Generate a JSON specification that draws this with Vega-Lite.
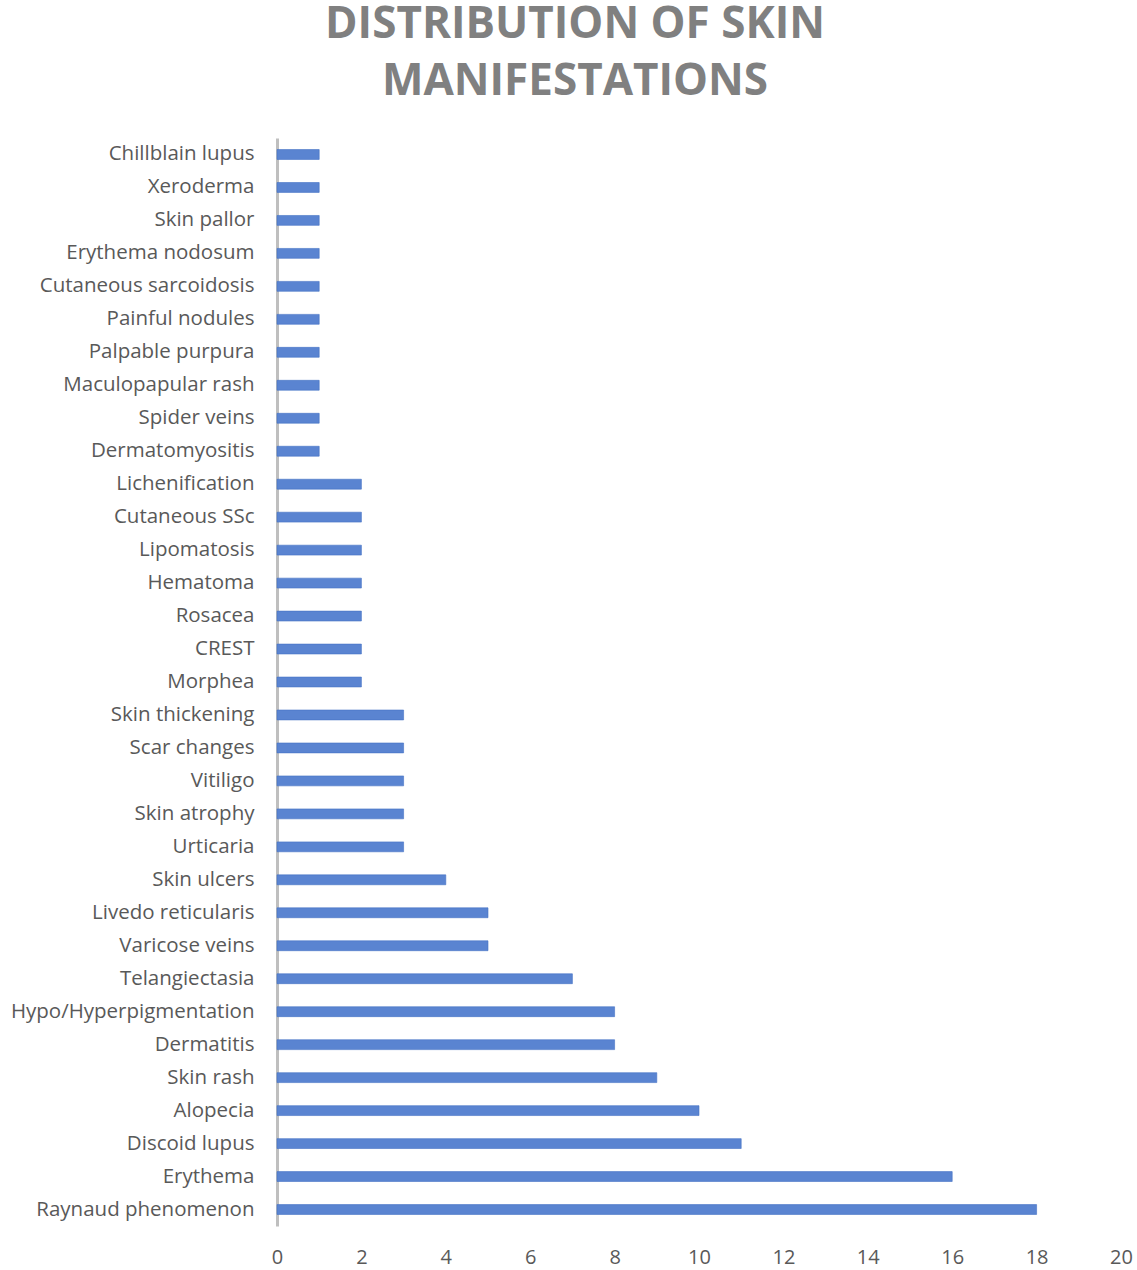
{
  "$schema": "https://vega.github.io/schema/vega-lite/v6.json",
  "width": 844,
  "height": 1088,
  "autosize": {"type": "none"},
  "padding": {"left": 277, "top": 138, "right": 16, "bottom": 44},
  "background": "white",
  "title": {
    "text": ["DISTRIBUTION OF SKIN", "MANIFESTATIONS"],
    "font": "Open Sans",
    "fontSize": 44,
    "fontWeight": "bold",
    "color": "#808080",
    "anchor": "middle",
    "dx": -124,
    "offset": 34,
    "lineHeight": 57,
    "baseline": "top"
  },
  "data": {
    "values": [
      {"condition": "Chillblain lupus", "count": 1},
      {"condition": "Xeroderma", "count": 1},
      {"condition": "Skin pallor", "count": 1},
      {"condition": "Erythema nodosum", "count": 1},
      {"condition": "Cutaneous sarcoidosis", "count": 1},
      {"condition": "Painful nodules", "count": 1},
      {"condition": "Palpable purpura", "count": 1},
      {"condition": "Maculopapular rash", "count": 1},
      {"condition": "Spider veins", "count": 1},
      {"condition": "Dermatomyositis", "count": 1},
      {"condition": "Lichenification", "count": 2},
      {"condition": "Cutaneous SSc", "count": 2},
      {"condition": "Lipomatosis", "count": 2},
      {"condition": "Hematoma", "count": 2},
      {"condition": "Rosacea", "count": 2},
      {"condition": "CREST", "count": 2},
      {"condition": "Morphea", "count": 2},
      {"condition": "Skin thickening", "count": 3},
      {"condition": "Scar changes", "count": 3},
      {"condition": "Vitiligo", "count": 3},
      {"condition": "Skin atrophy", "count": 3},
      {"condition": "Urticaria", "count": 3},
      {"condition": "Skin ulcers", "count": 4},
      {"condition": "Livedo reticularis", "count": 5},
      {"condition": "Varicose veins", "count": 5},
      {"condition": "Telangiectasia", "count": 7},
      {"condition": "Hypo/Hyperpigmentation", "count": 8},
      {"condition": "Dermatitis", "count": 8},
      {"condition": "Skin rash", "count": 9},
      {"condition": "Alopecia", "count": 10},
      {"condition": "Discoid lupus", "count": 11},
      {"condition": "Erythema", "count": 16},
      {"condition": "Raynaud phenomenon", "count": 18}
    ]
  },
  "mark": {"type": "bar", "color": "#5a84d1", "stroke": "#4472c4", "strokeWidth": 0.6},
  "encoding": {
    "y": {
      "field": "condition",
      "type": "nominal",
      "sort": null,
      "scale": {"paddingInner": 0.7, "paddingOuter": 0.35},
      "axis": {
        "title": null,
        "ticks": false,
        "domainColor": "#bfbfbf",
        "domainWidth": 3,
        "labelFont": "Open Sans",
        "labelFontSize": 20.5,
        "labelColor": "#595959",
        "labelPadding": 23,
        "labelLimit": 400
      }
    },
    "x": {
      "field": "count",
      "type": "quantitative",
      "scale": {"domain": [0, 20], "nice": false},
      "axis": {
        "title": null,
        "values": [0, 2, 4, 6, 8, 10, 12, 14, 16, 18, 20],
        "grid": false,
        "domain": false,
        "ticks": false,
        "labelFlush": false,
        "labelFont": "Open Sans",
        "labelFontSize": 20,
        "labelColor": "#595959",
        "labelPadding": 21
      }
    }
  },
  "config": {"view": {"stroke": null}}
}
